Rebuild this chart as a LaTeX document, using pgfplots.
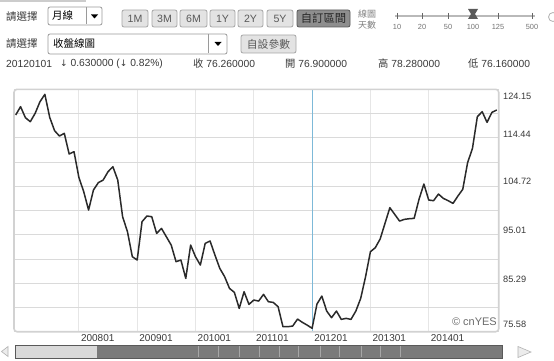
\documentclass[border=0pt]{standalone}
\usepackage{fontspec}
\setmainfont{Liberation Sans}
\newfontfamily\cjk{Noto Sans CJK TC}
\newfontfamily\dv{DejaVu Sans}
\usepackage{pgfplots}
\usepackage{pgfplotstable}
\pgfplotsset{compat=1.18}
\definecolor{linec}{HTML}{2A2A2A}
\definecolor{gridx}{HTML}{E6E6E6}
\definecolor{gridy}{HTML}{DADADA}
\definecolor{framec}{HTML}{D2D2D2}
\definecolor{bluec}{HTML}{7DB9D8}
\definecolor{txt}{HTML}{3A3A3A}
\definecolor{btnb}{HTML}{A6A6A6}
\definecolor{btnf}{HTML}{E3E3E3}
\definecolor{btnd}{HTML}{8E8E8E}
\definecolor{ddb}{HTML}{9A9A9A}
\newcommand\hf{\fontsize{10.3}{12}\selectfont}
\newcommand\btnfont{\fontsize{10.6}{12}\selectfont}
\pgfplotstableread{
i v
0 119.00
1 120.67
2 118.46
3 117.66
4 119.33
5 121.67
6 123.14
7 118.53
8 115.86
9 114.79
10 115.32
11 111.18
12 111.65
13 106.50
14 103.63
15 99.96
16 103.97
17 105.44
18 105.97
19 107.64
20 108.64
21 105.97
22 98.62
23 95.62
24 90.61
25 89.94
26 97.62
27 98.76
28 98.62
29 95.28
30 96.28
31 94.61
32 92.94
33 89.61
34 89.94
35 86.26
36 92.94
37 90.61
38 88.94
39 93.28
40 93.75
41 90.94
42 88.27
43 86.60
44 84.26
45 83.46
46 80.25
47 83.59
48 81.05
49 81.92
50 81.72
51 83.06
52 81.59
53 81.45
54 80.59
55 76.58
56 76.58
57 76.71
58 78.11
59 77.45
60 76.89
61 76.26
62 81.12
63 82.72
64 79.72
65 78.38
66 79.72
67 78.05
68 78.25
69 78.05
70 79.72
71 82.26
72 86.60
73 91.61
74 92.41
75 94.15
76 97.29
77 100.43
78 99.09
79 97.75
80 98.09
81 98.22
82 98.29
83 102.10
84 105.17
85 101.96
86 101.83
87 103.16
88 102.30
89 101.83
90 101.29
91 102.76
92 104.10
93 109.44
94 112.32
95 118.66
96 119.66
97 117.53
98 119.53
99 120.00
}\closedata
\begin{document}
\begin{tikzpicture}
\begin{scope}[x=1pt,y=-1pt]
\useasboundingbox (0,0) rectangle (554,361);
\fill[white] (0,0) rectangle (554,361);
\fill[gray!40] (0,0) rectangle (86,2);
% ---------- row 1
\node[anchor=west, inner sep=0pt, text=txt, font=\cjk\fontsize{10.5}{12}\selectfont] at (6,17) {請選擇};
\draw[ddb, fill=white, rounded corners=2pt, line width=0.8pt] (48,7) rectangle (102,25);
\draw[ddb, line width=0.6pt] (86,7.5) -- (86,24.5);
\node[anchor=west, inner sep=0pt, text=black, font=\cjk\fontsize{10.5}{12}\selectfont] at (52,16) {月線};
\fill[black] (91,14.5) -- (98,14.5) -- (94.5,18.5) -- cycle;
\foreach \a/\b/\t in {122/148/1M,152/177/3M,180/207/6M,210/235/1Y,238/263/2Y,267/293/5Y}{
  \draw[btnb, fill=btnf, rounded corners=2pt, line width=0.8pt] (\a,10) rectangle (\b,27);
  \node[inner sep=0pt, text=black!65, font=\btnfont] at ({(\a+\b)/2},18.5) {\t};
}
\draw[gray!70!black, fill=btnd, rounded corners=2pt, line width=0.8pt] (297,10) rectangle (350,27);
\node[inner sep=0pt, text=black!85, font=\cjk\fontsize{11.3}{12}\selectfont] at (323.5,18.5) {自訂區間};
\node[anchor=west, inner sep=0pt, text=gray, font=\cjk\fontsize{9}{10}\selectfont] at (358,14.5) {線圖};
\node[anchor=west, inner sep=0pt, text=gray, font=\cjk\fontsize{9}{10}\selectfont] at (358,25.5) {天數};
\draw[gray!55, line width=1.6pt] (395,16) -- (535,16);
\foreach \p/\t in {397/10,422/20,448/50,473/100,498/125,532/500}{
  \draw[gray!80!black, line width=0.8pt] (\p,13) -- (\p,19);
  \node[inner sep=0pt, text=gray!90!black, font=\fontsize{7.4}{8}\selectfont] at (\p,26.5) {\t};
}
\fill[gray!70!black] (468,9) -- (478,9) -- (475,14) -- (478,19) -- (468,19) -- (471,14) -- cycle;
\draw[gray!60, line width=0.8pt] (553,17) circle (4.5);
% ---------- row 2
\node[anchor=west, inner sep=0pt, text=txt, font=\cjk\fontsize{10.5}{12}\selectfont] at (6,44) {請選擇};
\draw[ddb, fill=white, rounded corners=2pt, line width=0.8pt] (48,34) rectangle (227,54);
\draw[ddb, line width=0.6pt] (208,34.5) -- (208,53.5);
\node[anchor=west, inner sep=0pt, text=black, font=\cjk\fontsize{10.5}{12}\selectfont] at (53,44) {收盤線圖};
\fill[black] (214.5,42) -- (221.5,42) -- (218,46) -- cycle;
\draw[btnb, fill=btnf, rounded corners=2pt, line width=0.8pt] (241,35) rectangle (296,53);
\node[inner sep=0pt, text=black!65, font=\cjk\fontsize{10.8}{12}\selectfont] at (268.5,44) {自設參數};
% ---------- row 3
\node[anchor=west, inner sep=0pt, text=txt, font=\hf] at (6,64) {20120101};
\node[anchor=west, inner sep=0pt, text=txt, font=\hf] at (60,64) {{\dv\fontsize{9}{11}\selectfont ↓} 0.630000 ({\dv\fontsize{9}{11}\selectfont ↓} 0.82\%)};
\node[anchor=west, inner sep=0pt, text=txt, font=\hf] at (193,64) {{\cjk 收} 76.260000};
\node[anchor=west, inner sep=0pt, text=txt, font=\hf] at (285,64) {{\cjk 開} 76.900000};
\node[anchor=west, inner sep=0pt, text=txt, font=\hf] at (378,64) {{\cjk 高} 78.280000};
\node[anchor=west, inner sep=0pt, text=txt, font=\hf] at (468,64) {{\cjk 低} 76.160000};
\end{scope}

\begin{axis}[
  at={(14pt,-331.7pt)}, anchor=south west,
  width=484.7pt, height=242.4pt, scale only axis,
  xmin=-0.35, xmax=99.4, ymin=75.58, ymax=124.15,
  axis line style={draw=none},
  xtick={13,25,37,49,61,73,85},
  xticklabels={200801,200901,201001,201101,201201,201301,201401},
  ytick={75.58,80.437,85.294,90.151,95.008,99.865,104.722,109.579,114.436,119.293,124.15},
  yticklabel={\mbox{}},
  major tick length=0pt,
  xmajorgrids, ymajorgrids,
  major x grid style={gridx, line width=0.8pt},
  major y grid style={gridy, line width=0.8pt},
  xticklabel style={anchor=west, inner sep=0pt, xshift=2pt, yshift=-6.6pt,
    font=\fontsize{10}{12}\selectfont, text=txt},
]
\addplot[bluec, line width=1.1pt] coordinates {(61,75.58) (61,124.15)};
\addplot[linec, line width=1.5pt, line join=round] table[x=i, y=v] {\closedata};
\end{axis}

\begin{scope}[x=1pt,y=-1pt]
\draw[framec, line width=1.6pt, rounded corners=3pt] (14,89.3) rectangle (498.7,331.7);
\node[anchor=east, inner sep=0pt, text=gray!85!black, font=\fontsize{11}{12}\selectfont] at (497,321.5) {© cnYES};
\foreach \y/\t in {96.7/124.15,134/114.44,181.5/104.72,230.5/95.01,279/85.29,324.5/75.58}{
  \node[anchor=west, inner sep=0pt, text=txt, font=\fontsize{9.2}{10}\selectfont] at (503,\y) {\t};
}
% scrollbar
\fill[gray!30] (15,345) rectangle (97,358);
\fill[black!52] (97,345) rectangle (502,358);
\foreach \x in {198,218,239,259,279,298,320,339,361,380,400}{
  \draw[black!35, line width=0.5pt] (\x,346) -- (\x,357);
}
\draw[black!65, line width=0.8pt] (15,345) rectangle (502,358);
\draw[gray!60, fill=gray!15, line width=0.6pt] (8,346.5) -- (1.5,351.5) -- (8,356.5) -- cycle;
\draw[gray!60, fill=gray!15, line width=0.6pt] (518,346.5) -- (531,352) -- (518,357.5) -- cycle;
\end{scope}
\end{tikzpicture}
\end{document}
